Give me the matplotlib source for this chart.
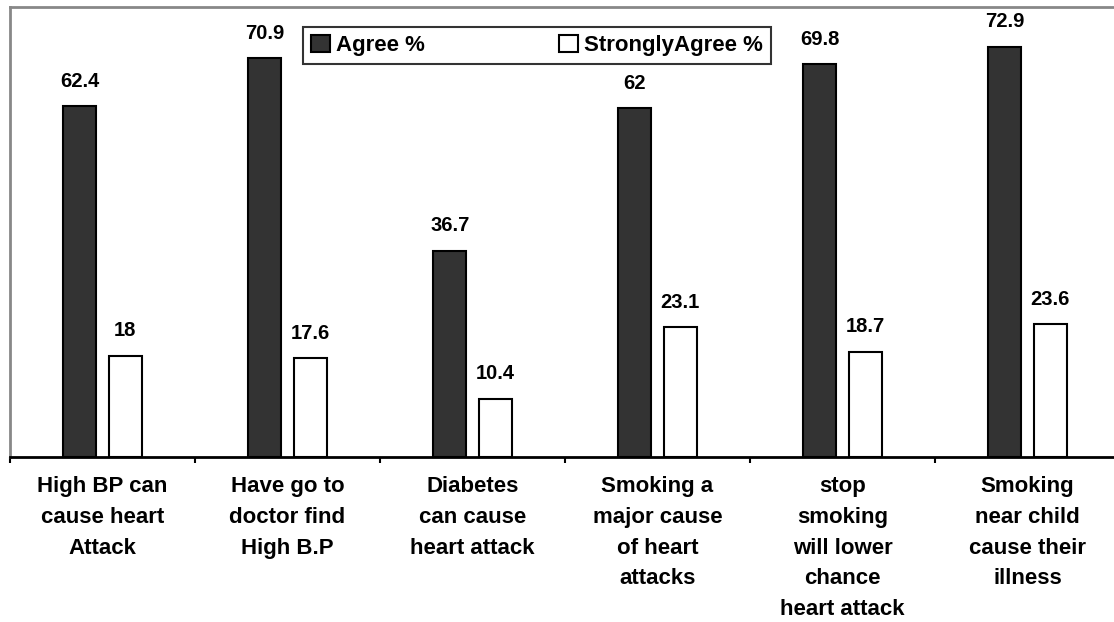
import numpy as np
import matplotlib
matplotlib.use("Agg")
import matplotlib.pyplot as plt

# survey categories and percentages
categories = [
    "High BP can\ncause heart\nAttack",
    "Have go to\ndoctor find\nHigh B.P",
    "Diabetes\ncan cause\nheart attack",
    "Smoking a\nmajor cause\nof heart\nattacks",
    "stop\nsmoking\nwill lower\nchance\nheart attack",
    "Smoking\nnear child\ncause their\nillness",
]
agree = [62.4, 70.9, 36.7, 62, 69.8, 72.9]
strongly_agree = [18, 17.6, 10.4, 23.1, 18.7, 23.6]

plt.rcParams['font.family'] = ['Liberation Sans', 'DejaVu Sans']
plt.rcParams['font.weight'] = 'bold'

fig = plt.figure(figsize=(11.14, 6.22), dpi=100)
ax = fig.add_axes([10 / 1114, 165 / 622, 1110 / 1114, 450 / 622])

centers = np.arange(len(categories)) + 0.5
w = 0.178
off = 0.123

b1 = ax.bar(centers - off, agree, w, color='#333333', edgecolor='black', linewidth=1.5, label='Agree %')
b2 = ax.bar(centers + off, strongly_agree, w, color='white', edgecolor='black', linewidth=1.5, label='StronglyAgree %')

for bars, vals in [(b1, agree), (b2, strongly_agree)]:
    for rect, v in zip(bars, vals):
        ax.annotate(f"{v:g}", (rect.get_x() + rect.get_width() / 2, rect.get_height()),
                    xytext=(0, 14), textcoords='offset points', ha='center', va='baseline',
                    fontsize=14.5, fontweight='bold')

ax.set_xlim(0, 6)
ax.set_ylim(0, 80)
ax.set_yticks([])

# boundary ticks (major) and labels at centres (minor)
ax.set_xticks(np.arange(0, 7))
ax.set_xticklabels([])
ax.tick_params(axis='x', which='major', length=4.5, width=1.5, color='black', direction='out')
ax.set_xticks(centers, minor=True)
ax.set_xticklabels(categories, minor=True, fontsize=16, fontweight='bold', linespacing=1.6)
ax.tick_params(axis='x', which='minor', length=0, pad=14)

for s in ['top', 'left', 'right']:
    ax.spines[s].set_color('#888888')
    ax.spines[s].set_linewidth(2)
ax.spines['bottom'].set_color('black')
ax.spines['bottom'].set_linewidth(2)

leg = ax.legend(loc='upper left', bbox_to_anchor=(0.264, 0.9556 - 0.2, 0.4216, 0.2), mode='expand',
                ncol=2, frameon=True, fancybox=False, edgecolor='black', fontsize=16,
                handlelength=0.85, handleheight=0.85, handletextpad=0.3, borderpad=0.35,
                borderaxespad=0)
leg.get_frame().set_linewidth(1.5)

fig.savefig("out.png", dpi=100)
